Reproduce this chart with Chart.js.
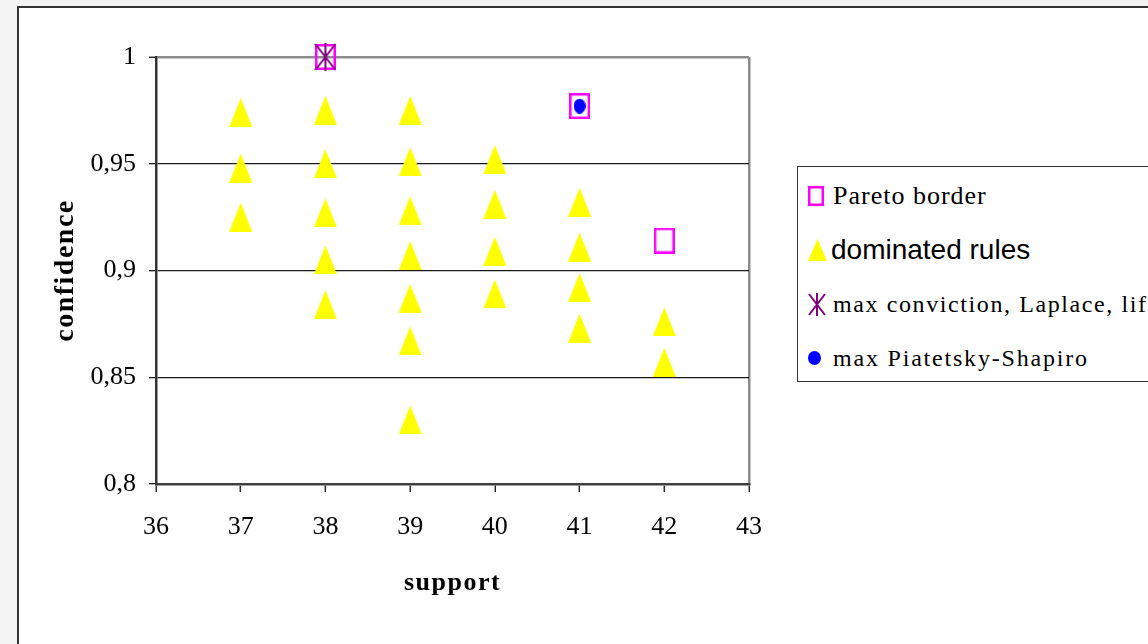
<!DOCTYPE html>
<html>
<head>
<meta charset="utf-8">
<script src="https://cdn.jsdelivr.net/npm/chart.js@4.4.1/dist/chart.umd.min.js"></script>
<style>
  html, body { margin: 0; padding: 0; width: 1148px; height: 644px; overflow: hidden; background: #f3f3f3; }
  .frame { position: absolute; left: 17px; top: 6px; width: 1160px; height: 680px; background: #fff; border: 2px solid #333; }
  .wrap { position: absolute; left: 0; top: 0; width: 1148px; height: 644px; }
  #legend { position: absolute; left: 797px; top: 166px; width: 420px; height: 214px; border: 1.5px solid #333; background: #fff; }
  .row { position: absolute; left: 0; height: 40px; white-space: nowrap; color: #000; }
  .row canvas { position: absolute; }
  .row span { position: absolute; line-height: 40px; top: 0; }
</style>
</head>
<body>
<div class="frame"></div>
<div class="wrap"><canvas id="chart"></canvas></div>
<div id="legend"></div>
<script>
// y tick labels use a decimal comma
const confidenceTicks = ['0,8', '0,85', '0,9', '0,95', '1'];

const paretoSupport = [38, 41, 42];
const paretoConfidence = [1.0, 0.977, 0.914];

const dominatedSupport = [37, 37, 37, 38, 38, 38, 38, 38, 39, 39, 39, 39, 39, 39, 39, 40, 40, 40, 40, 41, 41, 41, 41, 42, 42];
const dominatedConfidence = [0.974, 0.948, 0.925, 0.975, 0.950, 0.927, 0.905, 0.884, 0.975, 0.951, 0.928, 0.907, 0.887, 0.867, 0.830, 0.952, 0.931, 0.909, 0.889, 0.932, 0.911, 0.892, 0.873, 0.876, 0.857];

const convictionSupport = [38];
const convictionConfidence = [1.0];

const piatetskySupport = [41];
const piatetskyConfidence = [0.977];

const toPoints = (xs, ys) => xs.map((x, i) => ({ x, y: ys[i] }));

function marker(w, h, draw) {
  const c = document.createElement('canvas');
  c.width = w;
  c.height = h;
  draw(c.getContext('2d'), w, h);
  return c;
}

const drawSquare = (ctx, w, h) => {
  ctx.strokeStyle = '#ff00ff';
  ctx.lineWidth = 2.5;
  ctx.strokeRect(1.25, 1.25, w - 2.5, h - 2.5);
};
const drawTriangle = (ctx, w, h) => {
  ctx.fillStyle = '#ffff00';
  ctx.beginPath();
  ctx.moveTo(w / 2, 0);
  ctx.lineTo(w, h);
  ctx.lineTo(0, h);
  ctx.closePath();
  ctx.fill();
};
const drawStar = (ctx, w, h) => {
  ctx.strokeStyle = '#800080';
  ctx.lineWidth = 2;
  ctx.beginPath();
  ctx.moveTo(w / 2, 0); ctx.lineTo(w / 2, h);
  ctx.moveTo(1, 1); ctx.lineTo(w - 1, h - 1);
  ctx.moveTo(w - 1, 1); ctx.lineTo(1, h - 1);
  ctx.stroke();
};
const drawDot = (ctx, w, h) => {
  ctx.fillStyle = '#0000ff';
  ctx.beginPath();
  ctx.ellipse(w / 2, h / 2, w / 2, h / 2, 0, 0, Math.PI * 2);
  ctx.fill();
};

// axis titles get a bit of letter spacing, like the original
const titleSpacing = {
  id: 'titleSpacing',
  beforeDraw(chart) { chart.ctx.letterSpacing = '1.5px'; },
  beforeDatasetsDraw(chart) { chart.ctx.letterSpacing = '0px'; }
};

const serif = '"Liberation Serif", "Times New Roman", serif';

const chart = new Chart(document.getElementById('chart'), {
  type: 'scatter',
  data: {
    datasets: [
      {
        label: 'Pareto border',
        data: toPoints(paretoSupport, paretoConfidence),
        pointStyle: marker(21, 26, drawSquare),
        pointRadius: 10,
        order: 3,
        clip: false
      },
      {
        label: 'dominated rules',
        data: toPoints(dominatedSupport, dominatedConfidence),
        pointStyle: marker(23, 29, drawTriangle),
        pointRadius: 10,
        order: 4,
        clip: false
      },
      {
        label: 'max conviction, Laplace, lift',
        data: toPoints(convictionSupport, convictionConfidence),
        pointStyle: marker(22, 28, drawStar),
        pointRadius: 10,
        order: 1,
        clip: false
      },
      {
        label: 'max Piatetsky-Shapiro',
        data: toPoints(piatetskySupport, piatetskyConfidence),
        pointStyle: marker(12, 15, drawDot),
        pointRadius: 10,
        order: 2,
        clip: false
      }
    ]
  },
  options: {
    responsive: true,
    maintainAspectRatio: false,
    animation: false,
    events: [],
    layout: { padding: { top: 57, right: 399, bottom: 0, left: 0 } },
    plugins: {
      legend: { display: false },
      tooltip: { enabled: false }
    },
    scales: {
      x: {
        type: 'linear',
        min: 36,
        max: 43,
        ticks: { stepSize: 1, color: '#000', font: { family: serif, size: 26 }, padding: 20, z: 1 },
        grid: {
          color: c => (c.tick && c.tick.value === 43 ? '#8c8c8c' : 'rgba(0,0,0,0)'),
          lineWidth: 2.5,
          tickColor: '#111',
          tickLength: 8,
          tickWidth: 1.3
        },
        border: { color: '#404040', width: 2.5 },
        title: {
          display: true,
          text: 'support',
          color: '#000',
          font: { family: serif, size: 26, weight: 'bold' },
          padding: { top: 0, bottom: 45 }
        },
        afterFit: s => { s.height = 160; }
      },
      y: {
        min: 0.8,
        max: 1,
        ticks: {
          stepSize: 0.05,
          color: '#000',
          font: { family: serif, size: 26 },
          padding: 13,
          z: 1,
          callback: (v, i) => confidenceTicks[i]
        },
        grid: {
          color: c => {
            if (!c.tick) return '#1a1a1a';
            if (c.tick.value >= 0.999) return '#8c8c8c';
            if (c.tick.value <= 0.801) return 'rgba(0,0,0,0)';
            return '#1a1a1a';
          },
          lineWidth: c => (c.tick && c.tick.value >= 0.999 ? 2.5 : 1.3),
          tickColor: '#111',
          tickLength: 7,
          tickWidth: 1.3
        },
        border: { color: '#333', width: 2.5 },
        title: {
          display: true,
          text: 'confidence',
          color: '#000',
          font: { family: serif, size: 28, weight: 'bold' },
          padding: { top: 49, bottom: 0 }
        },
        afterFit: s => { s.width = 156; }
      }
    }
  },
  plugins: [titleSpacing]
});

// html legend, because each entry uses its own font
const legendRows = [
  { icon: [16, 20, drawSquare], top: 9, textLeft: 35, font: '26px ' + serif, spacing: '1px' },
  { icon: [19, 22, drawTriangle], top: 63, textLeft: 33, font: '28px "Liberation Sans", Arial, sans-serif', spacing: '0px' },
  { icon: [18, 23, drawStar], top: 117, textLeft: 35, font: '24px ' + serif, spacing: '1.6px' },
  { icon: [13, 14, drawDot], top: 171, textLeft: 35, font: '24px ' + serif, spacing: '1.8px' }
];
const legendEl = document.getElementById('legend');
chart.data.datasets.forEach((ds, i) => {
  const r = legendRows[i];
  const row = document.createElement('div');
  row.className = 'row';
  row.style.top = r.top + 'px';
  row.style.width = '420px';
  const icon = marker(r.icon[0], r.icon[1], r.icon[2]);
  icon.style.left = '10px';
  icon.style.top = (20 - r.icon[1] / 2) + 'px';
  const text = document.createElement('span');
  text.textContent = ds.label;
  text.style.left = r.textLeft + 'px';
  text.style.font = r.font;
  text.style.lineHeight = '40px';
  text.style.letterSpacing = r.spacing;
  row.appendChild(icon);
  row.appendChild(text);
  legendEl.appendChild(row);
});
</script>
</body>
</html>
